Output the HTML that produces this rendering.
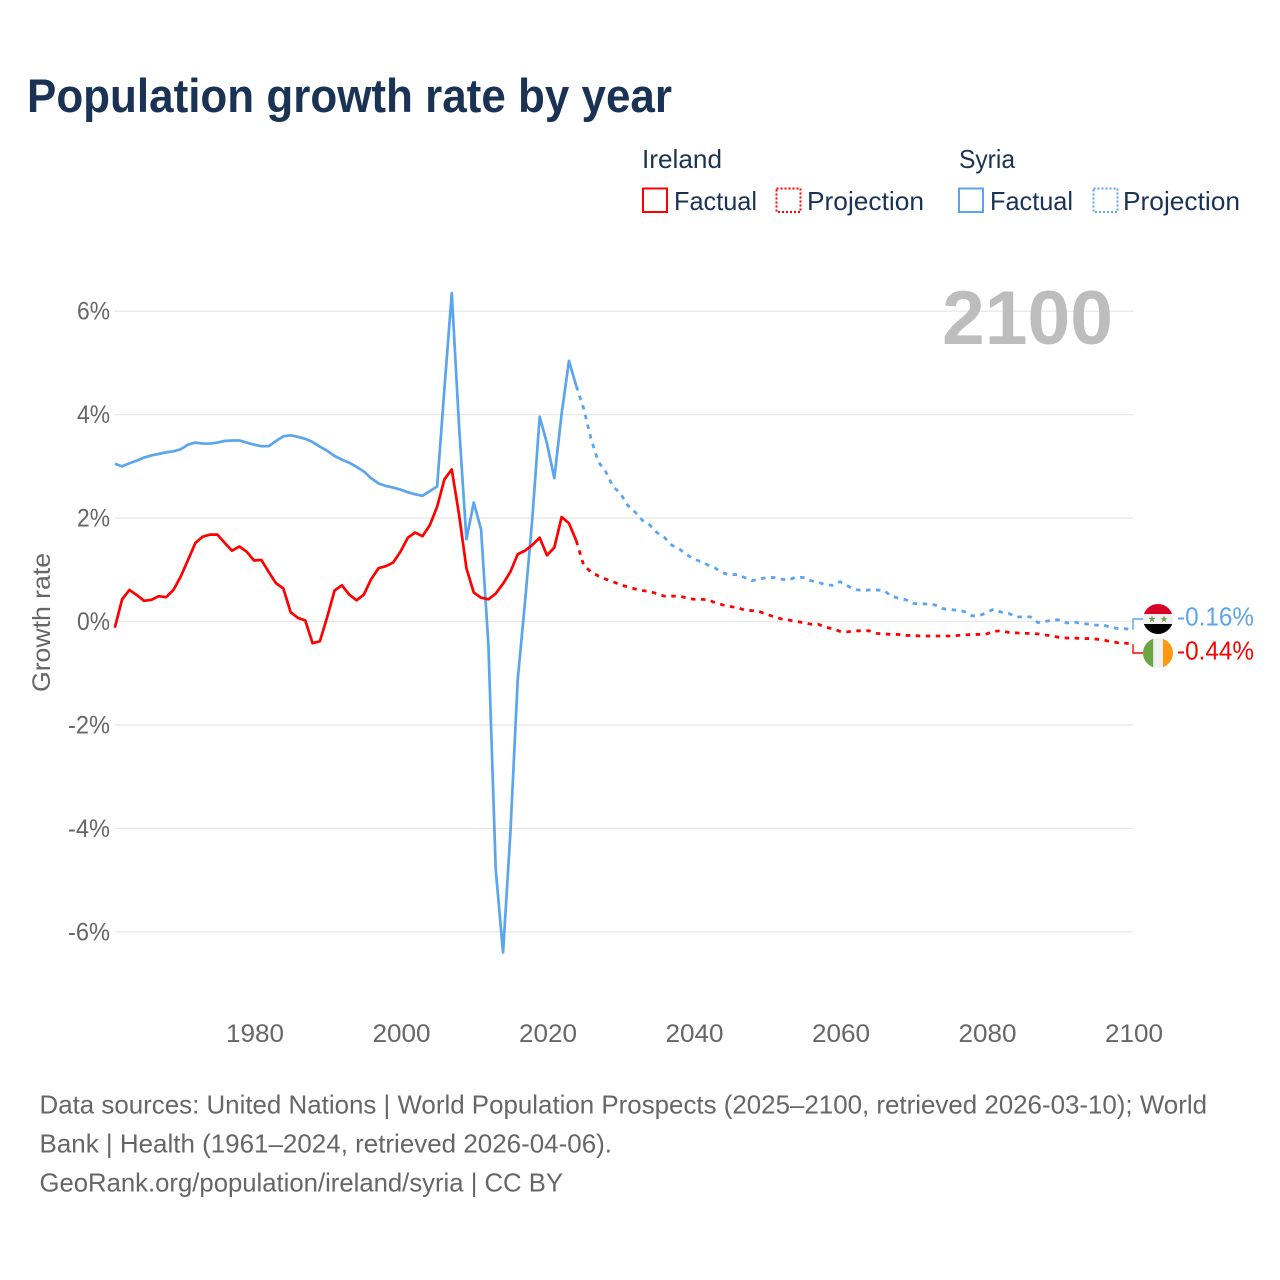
<!DOCTYPE html>
<html lang="en">
<head>
<meta charset="utf-8">
<title>Population growth rate by year</title>
<style>
html,body{margin:0;padding:0;background:#fff;}
svg{display:block;font-family:"Liberation Sans",sans-serif;}
</style>
</head>
<body>
<svg id="chart" xmlns="http://www.w3.org/2000/svg" width="1280" height="1280" viewBox="0 0 1280 1280">
  <rect x="0" y="0" width="1280" height="1280" fill="#ffffff"/>
  <text x="27" y="112" font-size="47" font-weight="700" fill="#1a3355" textLength="645" lengthAdjust="spacingAndGlyphs">Population growth rate by year</text>

  <g font-size="26" fill="#1a3355">
    <text x="642" y="168" textLength="80" lengthAdjust="spacingAndGlyphs">Ireland</text>
    <text x="959" y="168" textLength="56" lengthAdjust="spacingAndGlyphs">Syria</text>
    <g>
      <rect x="643" y="188.5" width="24" height="23.5" fill="none" stroke="#ff0000" stroke-width="2"/>
      <text x="674" y="210" textLength="83" lengthAdjust="spacingAndGlyphs">Factual</text>
    </g>
    <g>
      <rect x="776.5" y="188.5" width="24" height="23.5" fill="none" stroke="#ff0000" stroke-width="2" stroke-dasharray="2 2"/>
      <text x="807" y="210" textLength="117" lengthAdjust="spacingAndGlyphs">Projection</text>
    </g>
    <g>
      <rect x="959" y="188.5" width="24" height="23.5" fill="none" stroke="#5ba5ee" stroke-width="2"/>
      <text x="990" y="210" textLength="83" lengthAdjust="spacingAndGlyphs">Factual</text>
    </g>
    <g>
      <rect x="1093.5" y="188.5" width="24" height="23.5" fill="none" stroke="#5ba5ee" stroke-width="2" stroke-dasharray="2 2"/>
      <text x="1123" y="210" textLength="117" lengthAdjust="spacingAndGlyphs">Projection</text>
    </g>
  </g>

  <g id="grid"></g>
  <text x="942" y="344" font-size="76" font-weight="700" fill="#bdbdbd" textLength="171" lengthAdjust="spacingAndGlyphs">2100</text>
  <g id="yticks" font-size="25" fill="#666666"></g>
  <g id="xticks" font-size="25" fill="#666666"></g>
  <text transform="translate(50 622.5) rotate(-90)" text-anchor="middle" font-size="25" fill="#666666" textLength="139" lengthAdjust="spacingAndGlyphs">Growth rate</text>
  <g id="series"></g>

  <g>
    <clipPath id="clipSy"><circle cx="1158" cy="619" r="15"/></clipPath>
    <g clip-path="url(#clipSy)">
      <rect x="1143" y="604" width="30" height="10" fill="#d80027"/>
      <rect x="1143" y="614" width="30" height="10" fill="#f0f0f0"/>
      <rect x="1143" y="624" width="30" height="10" fill="#000000"/>
    </g>
    <polygon fill="#6da544" points="1152,615.5 1152.9,618 1155.5,618 1153.4,619.6 1154.2,622.2 1152,620.6 1149.8,622.2 1150.6,619.6 1148.5,618 1151.1,618"/>
    <polygon fill="#6da544" points="1164,615.5 1164.9,618 1167.5,618 1165.4,619.6 1166.2,622.2 1164,620.6 1161.8,622.2 1162.6,619.6 1160.5,618 1163.1,618"/>
  </g>
  <g>
    <clipPath id="clipIe"><circle cx="1158" cy="653" r="15"/></clipPath>
    <g clip-path="url(#clipIe)">
      <rect x="1143" y="638" width="10.3" height="30" fill="#6da544"/>
      <rect x="1153.3" y="638" width="9.7" height="30" fill="#f0f0f0"/>
      <rect x="1163" y="638" width="10" height="30" fill="#ff9811"/>
    </g>
  </g>
  <text id="endSy" x="1177" y="625.5" font-size="26" fill="#5ba5ee" textLength="77" lengthAdjust="spacingAndGlyphs"></text>
  <text id="endIe" x="1177" y="659.5" font-size="26" fill="#ff0000" textLength="77" lengthAdjust="spacingAndGlyphs"></text>

  <g font-size="26" fill="#666666">
    <text x="39.5" y="1113.5" textLength="1167.5" lengthAdjust="spacingAndGlyphs">Data sources: United Nations | World Population Prospects (2025–2100, retrieved 2026-03-10); World</text>
    <text x="39.5" y="1152.5" textLength="572.5" lengthAdjust="spacingAndGlyphs">Bank | Health (1961–2024, retrieved 2026-04-06).</text>
    <text x="39.5" y="1191.5" textLength="523.5" lengthAdjust="spacingAndGlyphs">GeoRank.org/population/ireland/syria | CC BY</text>
  </g>
</svg>
<script>
const xTickLabels = ['1980','2000','2020','2040','2060','2080','2100'];
const yTickLabels = ['6%','4%','2%','0%','-2%','-4%','-6%'];
const yTickValues = [6,4,2,0,-2,-4,-6];
const factualStartYear = 1961;
const projectionStartYear = 2024;
const irelandFactual = [-0.12,0.43,0.61,0.51,0.40,0.42,0.49,0.47,0.61,0.87,1.19,1.52,1.64,1.68,1.68,1.52,1.37,1.45,1.35,1.18,1.19,0.96,0.74,0.64,0.18,0.07,0.02,-0.42,-0.38,0.09,0.60,0.70,0.52,0.41,0.52,0.82,1.03,1.07,1.14,1.35,1.62,1.72,1.65,1.86,2.22,2.75,2.94,2.06,1.03,0.56,0.46,0.43,0.54,0.73,0.96,1.30,1.37,1.48,1.62,1.28,1.43,2.02,1.90,1.56];
const syriaFactual = [3.05,3.00,3.06,3.11,3.17,3.21,3.24,3.27,3.29,3.33,3.42,3.46,3.44,3.44,3.46,3.49,3.50,3.50,3.46,3.42,3.39,3.39,3.49,3.58,3.60,3.57,3.53,3.47,3.38,3.30,3.20,3.13,3.07,2.99,2.90,2.77,2.67,2.62,2.59,2.55,2.50,2.46,2.43,2.52,2.61,4.51,6.35,3.76,1.59,2.30,1.78,-0.45,-4.80,-6.40,-4.09,-1.13,0.38,2.00,3.96,3.44,2.77,4.02,5.04,4.55];
const irelandProjection = [1.56,1.09,0.96,0.88,0.82,0.77,0.71,0.67,0.63,0.60,0.58,0.54,0.49,0.49,0.49,0.46,0.43,0.43,0.42,0.36,0.32,0.29,0.27,0.22,0.21,0.19,0.14,0.09,0.05,0.03,0.00,-0.02,-0.05,-0.05,-0.11,-0.14,-0.19,-0.20,-0.18,-0.18,-0.18,-0.23,-0.24,-0.25,-0.25,-0.27,-0.27,-0.28,-0.28,-0.28,-0.28,-0.28,-0.27,-0.26,-0.25,-0.25,-0.24,-0.19,-0.18,-0.21,-0.22,-0.23,-0.23,-0.24,-0.26,-0.28,-0.31,-0.32,-0.32,-0.33,-0.33,-0.34,-0.36,-0.39,-0.41,-0.42,-0.44];
const syriaProjection = [4.55,4.12,3.54,3.09,2.90,2.61,2.48,2.25,2.12,1.96,1.87,1.72,1.63,1.48,1.41,1.30,1.21,1.16,1.09,1.03,0.94,0.90,0.91,0.85,0.79,0.82,0.85,0.85,0.82,0.80,0.86,0.85,0.79,0.76,0.71,0.70,0.77,0.69,0.62,0.60,0.61,0.61,0.60,0.49,0.45,0.42,0.35,0.34,0.34,0.32,0.25,0.23,0.22,0.19,0.11,0.11,0.17,0.24,0.18,0.16,0.09,0.09,0.09,-0.02,0.00,0.03,0.03,-0.03,-0.01,-0.04,-0.05,-0.07,-0.07,-0.11,-0.14,-0.14,-0.16];
const endLabelIreland = '-0.44%';
const endLabelSyria = '-0.16%';

const NS = 'http://www.w3.org/2000/svg';
const xScale = function (year) { return 1133 - (2100 - year) * 7.325; };
const yScale = function (value) { return 621.5 - value * 51.72; };

function make(tag, parentId) {
  const el = document.createElementNS(NS, tag);
  document.getElementById(parentId).appendChild(el);
  return el;
}

yTickValues.forEach(function (value, i) {
  const line = make('line', 'grid');
  
  
  line.setAttribute('x1', 115);
  line.setAttribute('x2', 1133);
  line.setAttribute('y1', yScale(value));
  line.setAttribute('y2', yScale(value));
  line.setAttribute('stroke', '#e8e8e8');
  line.setAttribute('stroke-width', '1.3');

  const label = make('text', 'yticks');
  
  
  label.setAttribute('x', value < 0 ? 68 : 77);
  label.setAttribute('y', yScale(value) + 8.5);
  label.setAttribute('textLength', value < 0 ? 42 : 33);
  label.setAttribute('lengthAdjust', 'spacingAndGlyphs');
  label.textContent = yTickLabels[i];
});

xTickLabels.forEach(function (text) {
  const label = make('text', 'xticks');
  
  
  label.setAttribute('x', xScale(Number(text)) - 28);
  label.setAttribute('y', 1042);
  label.setAttribute('textLength', 58);
  label.setAttribute('lengthAdjust', 'spacingAndGlyphs');
  label.textContent = text;
});

function linePoints(values, startYear) {
  return values.map(function (value, i) {
    return xScale(startYear + i).toFixed(2) + ',' + yScale(value).toFixed(2);
  }).join(' ');
}

const lineSyriaProjection = make('polyline', 'series');


lineSyriaProjection.setAttribute('points', linePoints(syriaProjection, projectionStartYear));
lineSyriaProjection.setAttribute('fill', 'none');
lineSyriaProjection.setAttribute('stroke', '#5ba5ee');
lineSyriaProjection.setAttribute('stroke-width', '2.8');
lineSyriaProjection.setAttribute('stroke-dasharray', '4.5 5.5');

const lineSyriaFactual = make('polyline', 'series');


lineSyriaFactual.setAttribute('points', linePoints(syriaFactual, factualStartYear));
lineSyriaFactual.setAttribute('fill', 'none');
lineSyriaFactual.setAttribute('stroke', '#5ba5ee');
lineSyriaFactual.setAttribute('stroke-width', '2.7');
lineSyriaFactual.setAttribute('stroke-linejoin', 'round');

const lineIrelandFactual = make('polyline', 'series');


lineIrelandFactual.setAttribute('points', linePoints(irelandFactual, factualStartYear));
lineIrelandFactual.setAttribute('fill', 'none');
lineIrelandFactual.setAttribute('stroke', '#ff0000');
lineIrelandFactual.setAttribute('stroke-width', '2.7');
lineIrelandFactual.setAttribute('stroke-linejoin', 'round');

const lineIrelandProjection = make('polyline', 'series');


lineIrelandProjection.setAttribute('points', linePoints(irelandProjection, projectionStartYear));
lineIrelandProjection.setAttribute('fill', 'none');
lineIrelandProjection.setAttribute('stroke', '#ff0000');
lineIrelandProjection.setAttribute('stroke-width', '2.8');
lineIrelandProjection.setAttribute('stroke-dasharray', '4.5 5.5');

function connector(value, targetY) {
  const x = xScale(2100);
  const y = yScale(value);
  return 'M' + x + ',' + y + 'V' + targetY + 'H1143';
}

const connectorSyria = make('path', 'series');


connectorSyria.setAttribute('d', connector(syriaProjection[syriaProjection.length - 1], 619));
connectorSyria.setAttribute('fill', 'none');
connectorSyria.setAttribute('stroke', '#5ba5ee');
connectorSyria.setAttribute('stroke-width', '1.4');

const connectorIreland = make('path', 'series');


connectorIreland.setAttribute('d', connector(irelandProjection[irelandProjection.length - 1], 653));
connectorIreland.setAttribute('fill', 'none');
connectorIreland.setAttribute('stroke', '#ff0000');
connectorIreland.setAttribute('stroke-width', '1.4');

document.getElementById('endSy').textContent = endLabelSyria;
document.getElementById('endIe').textContent = endLabelIreland;
</script>
</body>
</html>
